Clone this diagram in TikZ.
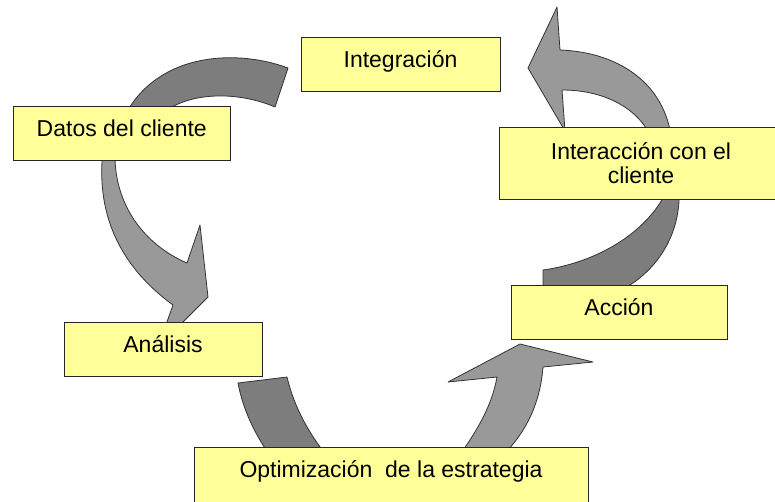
\documentclass[tikz,border=0pt]{standalone}
\usepackage{fontspec}
\setmainfont{Liberation Sans}
\definecolor{boxyellow}{RGB}{255,255,153}
\definecolor{banddark}{RGB}{125,125,125}
\definecolor{bandlight}{RGB}{153,153,153}
\begin{document}
\begin{tikzpicture}[x=1pt,y=-1pt,
  box/.style={draw=black!85, line width=0.8pt, fill=boxyellow, inner xsep=0pt, inner ysep=0pt, font=\fontsize{23}{24.5}\selectfont},
  oneline/.style={text height=30pt, text depth=24pt},
  band/.style={draw=black!80, line width=0.8pt, line join=round}]
\useasboundingbox (0,0) rectangle (775,501);
% curved arrows, drawn first so the boxes cover their ends
\draw[band, fill=banddark] (288,68) .. controls (240,50) and (160,50) .. (125,115) -- (160,115) .. controls (190,90) and (240,92) .. (275,107) -- cycle;
\draw[band, fill=bandlight] (103,150) .. controls (95,220) and (125,270) .. (173,305) -- (158,347) -- (208,297) -- (200,225) -- (187,263) .. controls (145,245) and (113,205) .. (115,150) -- cycle;
\draw[band, fill=banddark] (238,383) -- (287,377) .. controls (295,410) and (310,435) .. (330,460) -- (273,460) .. controls (255,435) and (243,410) .. (238,383) -- cycle;
\draw[band, fill=bandlight] (456,460) .. controls (478,430) and (492,405) .. (497,377) -- (448,382) -- (520,344) -- (593,362) -- (543,367) .. controls (540,405) and (525,435) .. (498,460) -- cycle;
\draw[band, fill=banddark] (543,295) -- (543,270) .. controls (600,262) and (650,230) .. (668,188) -- (679,188) .. controls (682,240) and (650,280) .. (610,295) -- cycle;
\draw[band, fill=bandlight] (671,135) .. controls (662,80) and (615,52) .. (560,50) -- (557,7) -- (528,68) -- (565,131) -- (562,90) .. controls (600,90) and (635,105) .. (650,135) -- cycle;

% boxes
\node[box, oneline, minimum width=199pt] (integ) at (400.5,64){Integración};
\node[box, oneline, minimum width=216.5pt] (datos) at (121.75,133.5){Datos del cliente};
\node[box, minimum width=284pt, minimum height=72pt, align=center] (inter) at (641,163){Interacción con el\\cliente};
\node[box, oneline, minimum width=216pt] (accion) at (619,312){Acción};
\node[box, oneline, minimum width=198pt] (analisis) at (163,349){Análisis};
\node[box, oneline, text depth=30pt, minimum width=394pt] (optim) at (391,477){Optimización~ de la estrategia};

\end{tikzpicture}
\end{document}
